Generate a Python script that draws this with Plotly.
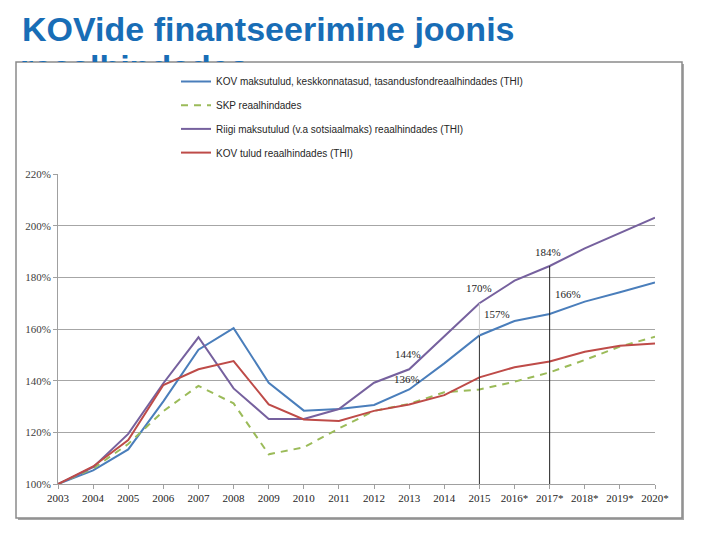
import plotly.graph_objects as go

# the page body has an 8px margin; the figure is laid out in page pixels minus that offset
OFF = 8
W, H = 709 - 2 * OFF, 539 - 2 * OFF

years = ["2003", "2004", "2005", "2006", "2007", "2008", "2009", "2010", "2011",
         "2012", "2013", "2014", "2015", "2016*", "2017*", "2018*", "2019*", "2020*"]

kov_maksutulud = [100, 105.3, 113.4, 132, 152, 160.3, 139.2, 128.4, 129,
                  130.6, 136.6, 146.7, 157.5, 163.1, 165.8, 170.6, 174.2, 178]
skp = [100, 106, 115.5, 128.2, 138, 131.2, 111.5, 114.2, 121.5,
       128.3, 131, 135.5, 136.6, 139.6, 143.2, 148, 153.2, 157]
riigi_maksutulud = [100, 106.5, 119.4, 139, 156.8, 137, 125.2, 125.2, 129,
                    139.2, 144.4, 157, 170, 178.7, 184.4, 191.2, 197.3, 203.1]
kov_tulud = [100, 106.8, 117, 138.3, 144.4, 147.6, 130.8, 125, 124.4,
             128.3, 130.8, 134.4, 141.3, 145.2, 147.4, 151.2, 153.5, 154.4]

names = ["KOV maksutulud, keskkonnatasud, tasandusfondreaalhindades (THI)",
         "SKP reaalhindades",
         "Riigi maksutulud (v.a sotsiaalmaks) reaalhindades (THI)",
         "KOV tulud reaalhindades (THI)"]

label_texts = ["184%", "170%", "157%", "166%", "144%", "136%"]

title_line1 = "KOVide finantseerimine joonis"
title_line2 = "reaalhindades"

# year indices of the vertical reference lines (2015 and 2017*)
ref_idx = [12, 14]

colors = ["#4A7EBB", "#9BBB59", "#76619E", "#BE4B48"]

xi = list(range(len(years)))


def fx(px):  # page pixel -> paper x
    return (px - OFF) / W


def fy(py):  # page pixel -> paper y
    return 1 - (py - OFF) / H


fig = go.Figure()

series = [kov_maksutulud, skp, riigi_maksutulud, kov_tulud]
for i, (s, nm) in enumerate(zip(series, names)):
    fig.add_trace(go.Scatter(
        x=xi, y=s, mode="lines", name=nm,
        line=dict(color=colors[i], width=2,
                  dash="7px,6px" if i == 1 else "solid"),
        legendgroup=f"g{i}",
    ))

# vertical reference lines
fig.add_trace(go.Scatter(
    x=[ref_idx[0], ref_idx[0]], y=[100, kov_maksutulud[ref_idx[0]]],
    mode="lines", line=dict(color="#333333", width=1), showlegend=False))
fig.add_trace(go.Scatter(
    x=[ref_idx[0], ref_idx[0]], y=[kov_maksutulud[ref_idx[0]], riigi_maksutulud[ref_idx[0]]],
    mode="lines", line=dict(color="#c8c8c8", width=1), showlegend=False))
fig.add_trace(go.Scatter(
    x=[ref_idx[1], ref_idx[1]], y=[100, riigi_maksutulud[ref_idx[1]]],
    mode="lines", line=dict(color="#222222", width=1), showlegend=False))

# second (clipped) title line, partially hidden behind the chart frame
FRAME_TOP = 62 - OFF
fig.add_trace(go.Scatter(
    x=[20 - OFF], y=[FRAME_TOP + 8], mode="text", text=[f"<b>{title_line2}</b>"],
    textposition="middle right", cliponaxis=True,
    textfont=dict(family="Liberation Sans, Arial, sans-serif", size=34, color="#186DB6"),
    xaxis="x2", yaxis="y2", showlegend=False, hoverinfo="skip"))


def px2x(px):
    return (px - 58) / ((655 - 58) / 17)


def py2y(py):
    return 100 + (484 - py) / ((484 - 174) / 120)


label_pos = [(548.3, 251.7), (479, 288.3), (496.7, 314), (567.7, 294), (408.3, 354.3), (406.7, 379)]
annotations = []
for t, (px, py) in zip(label_texts, label_pos):
    annotations.append(dict(
        x=px2x(px), y=py2y(py), xref="x", yref="y", text=t, showarrow=False,
        font=dict(family="Liberation Serif, Times New Roman, serif", size=11, color="#1e1e1e")))

annotations.append(dict(
    x=fx(20), y=fy(8), xref="paper", yref="paper", xanchor="left", yanchor="top",
    text=f"<b>{title_line1}</b>", showarrow=False,
    font=dict(family="Liberation Sans, Arial, sans-serif", size=34, color="#186DB6")))

shapes = [
    dict(type="rect", xref="paper", yref="paper", layer="below",
         x0=fx(18), x1=fx(684), y0=fy(520), y1=fy(64),
         fillcolor="#a8a8a8", line=dict(width=0)),
    dict(type="rect", xref="paper", yref="paper", layer="below",
         x0=fx(16), x1=fx(682), y0=fy(518), y1=fy(62),
         fillcolor="white", line=dict(color="#8a8a8a", width=1.5)),
]

fig.update_layout(
    width=W, height=H,
    margin=dict(l=0, r=0, t=0, b=0, pad=0, autoexpand=False),
    paper_bgcolor="white", plot_bgcolor="rgba(0,0,0,0)",
    showlegend=True,
    legend=dict(x=fx(176), y=fy(67), xanchor="left", yanchor="top",
                traceorder="grouped", tracegroupgap=4.7,
                font=dict(family="Liberation Sans, Arial, sans-serif",
                          size=10, color="#262626"),
                bgcolor="rgba(0,0,0,0)", itemwidth=30),
    xaxis=dict(domain=[fx(58), fx(655)], range=[0, 17], tickvals=xi, ticktext=years,
               showline=True, linecolor="#a0a0a0", linewidth=1,
               ticks="outside", ticklen=4, tickcolor="#a0a0a0",
               showgrid=False, zeroline=False, automargin=False,
               tickfont=dict(family="Liberation Serif, Times New Roman, serif", size=11, color="#262626")),
    yaxis=dict(domain=[fy(484), fy(174)], range=[100, 220], dtick=20,
               ticksuffix="%", showline=True, linecolor="#a0a0a0", linewidth=1,
               ticks="outside", ticklen=4, tickcolor="#a0a0a0", automargin=False,
               showgrid=True, gridcolor="#a6a6a6", gridwidth=1, zeroline=False,
               tickfont=dict(family="Liberation Serif, Times New Roman, serif", size=11, color="#404040")),
    xaxis2=dict(domain=[0, 1], range=[0, W], visible=False, anchor="y2", automargin=False),
    yaxis2=dict(domain=[fy(62), 1], range=[FRAME_TOP, 0], visible=False, anchor="x2", automargin=False),
    annotations=annotations,
    shapes=shapes,
)

fig.write_html("out.html")
